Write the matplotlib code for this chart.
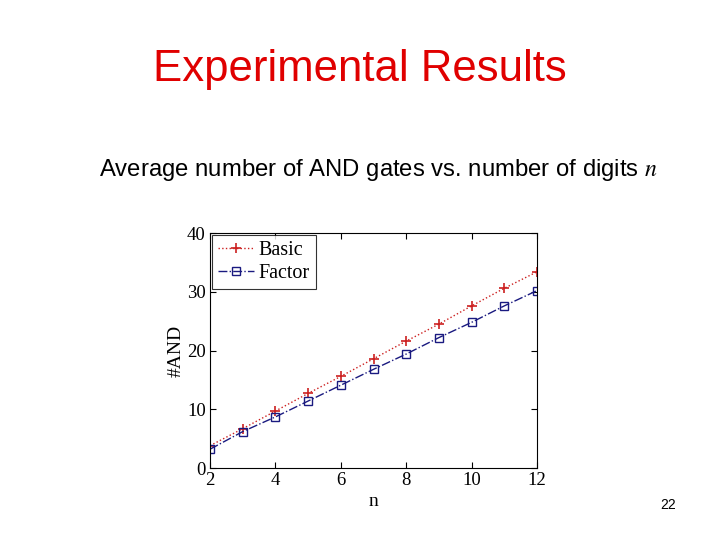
import matplotlib
matplotlib.use("Agg")
import matplotlib.pyplot as plt

# number of digits
n_digits = [2, 3, 4, 5, 6, 7, 8, 9, 10, 11, 12]
# average number of AND gates
basic_and = [3.8, 6.7, 9.7, 12.7, 15.6, 18.6, 21.6, 24.5, 27.6, 30.6, 33.4]
factor_and = [3.2, 6.2, 8.7, 11.4, 14.1, 16.8, 19.4, 22.2, 24.8, 27.6, 30.2]

x_ticks = [2, 4, 6, 8, 10, 12]
y_ticks = [0, 10, 20, 30, 40]

fig = plt.figure(figsize=(7.2, 5.4), dpi=100)
fig.patch.set_facecolor('white')

# slide texts
fig.text(0.5, 0.872, 'Experimental Results', ha='center', va='center',
         color='#e00000', fontsize=31.5, family='Liberation Sans')
fig.text(0.137, 0.685, 'Average number of AND gates vs. number of digits $n$',
         ha='left', va='center', fontsize=17.2, family='Liberation Sans',
         math_fontfamily='stix')
fig.text(0.928, 0.065, '22', ha='center', va='center', fontsize=10,
         family='Liberation Sans')

ax = fig.add_axes([0.2917, 0.1333, 0.4542, 0.4352])
ax.plot(n_digits, basic_and, linestyle=':', color='#cc2020', marker='+',
        markersize=7, markeredgewidth=1.2, linewidth=1, label='Basic')
ax.plot(n_digits, factor_and, linestyle='-.', color='#1a1a80', marker='s',
        markersize=6, markerfacecolor='none', markeredgewidth=1,
        linewidth=1, label='Factor')

ax.set_xlim(2, 12)
ax.set_ylim(0, 40)
ax.set_xticks(x_ticks)
ax.set_yticks(y_ticks)
ax.tick_params(direction='in', top=True, right=True, length=4,
               labelsize=13.5, pad=3)
for lab in ax.get_xticklabels() + ax.get_yticklabels():
    lab.set_family('Liberation Serif')
ax.set_xlabel('n', fontsize=14, family='Liberation Serif', labelpad=3)
ax.set_ylabel('#AND', fontsize=14, family='Liberation Serif', labelpad=2)

leg = ax.legend(loc='upper left', prop={'family': 'Liberation Serif', 'size': 14.5},
                frameon=True, fancybox=False, borderaxespad=0.1,
                handlelength=1.8, handletextpad=0.2, borderpad=0.3,
                labelspacing=0.2)
leg.get_frame().set_edgecolor('black')
leg.get_frame().set_linewidth(0.8)

fig.savefig('out.png', dpi=100)
